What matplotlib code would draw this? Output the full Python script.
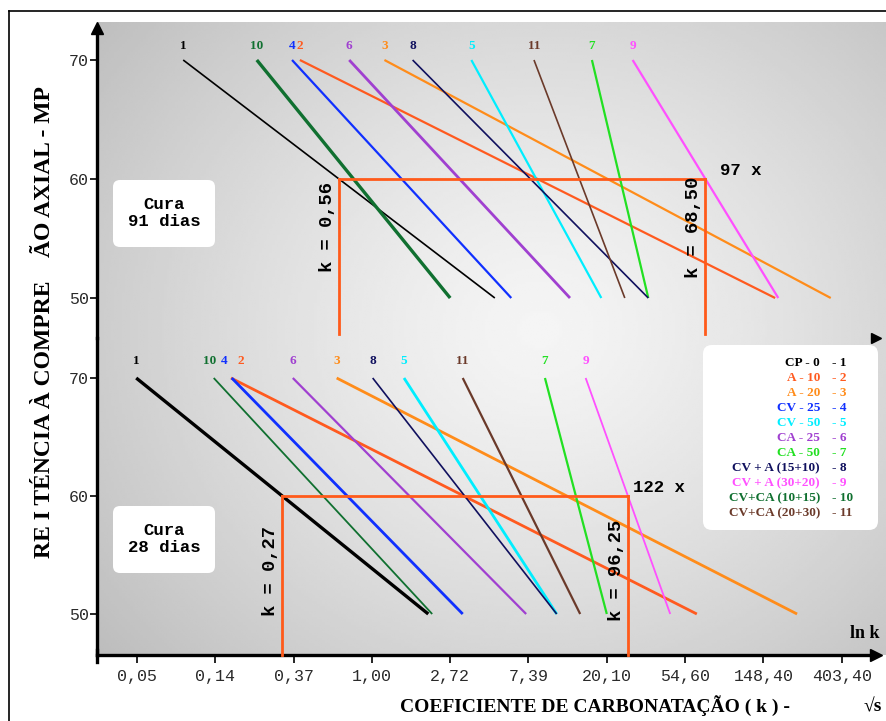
import numpy as np
import matplotlib
matplotlib.use('Agg')
import matplotlib.pyplot as plt
from matplotlib.patches import FancyBboxPatch

W, H = 887, 721

# ---------------- data ----------------
series_ids = ['1', '2', '3', '4', '5', '6', '7', '8', '9', '10', '11']
legend_names = ['CP - 0', 'A - 10', 'A - 20', 'CV - 25', 'CV - 50', 'CA - 25',
                'CA - 50', 'CV + A (15+10)', 'CV + A (30+20)', 'CV+CA (10+15)',
                'CV+CA (20+30)']
colors = ['#000000', '#FF5A1F', '#FF8C1A', '#1030FF', '#00EEFF', '#A040D0',
          '#22E022', '#10105E', '#FF50FF', '#107030', '#6B3A2A']

# ln(k) at which each line reaches 70 MPa and 50 MPa
cura91_lnk_at70 = [-2.41, -0.92, 0.16, -1.02, 1.27, -0.29, 2.81, 0.52, 3.33, -1.47, 2.07]
cura91_lnk_at50 = [1.57, 5.15, 5.86, 1.78, 2.93, 2.53, 3.53, 3.53, 5.19, 1.00, 3.23]
cura28_lnk_at70 = [-3.01, -1.80, -0.45, -1.79, 0.41, -1.01, 2.21, 0.01, 2.73, -2.02, 1.16]
cura28_lnk_at50 = [0.72, 4.15, 5.43, 1.16, 2.36, 1.97, 3.00, 2.36, 3.81, 0.77, 2.66]
strength_levels = [70, 50]

ytick_values = [50, 60, 70]
xtick_ln = [-3, -2, -1, 0, 1, 2, 3, 4, 5, 6]
xtick_labels = ['0,05', '0,14', '0,37', '1,00', '2,72', '7,39', '20,10',
                '54,60', '148,40', '403,40']

ref_strength = 60
ref_low_series, ref_high_series = '1', '9'
k_labels_91 = ['k = 0,56', 'k = 68,50']
ratio_91 = '97 x'
k_labels_28 = ['k = 0,27', 'k = 96,25']
ratio_28 = '122 x'

# ---------------- styles ----------------
lw91 = [1.2, 1.6, 1.6, 1.6, 1.6, 2.0, 1.6, 1.2, 1.6, 2.4, 1.2]
lw28 = [2.4, 2.0, 2.0, 2.0, 2.0, 1.6, 1.6, 1.2, 1.3, 1.3, 1.6]
label_dx28 = [0, 0.12, 0, -0.1, 0, 0, 0, 0, 0, -0.05, 0]
REF_COLOR = '#FF5A1A'

fig = plt.figure(figsize=(W / 100, H / 100), dpi=100)
fig.patch.set_facecolor('white')

def fx(px):
    return px / W

def fy(py):
    return 1 - py / H

# background (gradient, frame, boxes)
bg = fig.add_axes([0, 0, 1, 1], zorder=0)
bg.set_xlim(0, W)
bg.set_ylim(H, 0)
bg.axis('off')

gx0, gx1, gy0, gy1 = 97, 887, 22, 655
xx, yy = np.meshgrid(np.linspace(gx0, gx1, 300), np.linspace(gy0, gy1, 240))
r = np.sqrt(((xx - 540) / 470) ** 2 + ((yy - 330) / 420) ** 2)
grad = np.clip(0.96 - 0.17 * r ** 1.3, 0, 1)
bg.imshow(grad, extent=(gx0, gx1, gy1, gy0), cmap='gray', vmin=0, vmax=1,
          aspect='auto', origin='upper', interpolation='bilinear', zorder=0)
bg.plot([9, 9], [H, 11], color='k', lw=1.2, zorder=1)
bg.plot([9, W], [11, 11], color='k', lw=1.2, zorder=1)
bg.plot([97, 97], [650, 662], color='k', lw=2.4, zorder=1)

# axes geometry (pixels)
XL, XR = 97, 876
x_px0, x_step = 137, 78.3
xlim = ((XL - x_px0) / x_step - 3, (XR - x_px0) / x_step - 3)

ax_top = fig.add_axes([fx(XL), fy(338), fx(XR) - fx(XL), fy(28) - fy(338)], zorder=2)
ax_bot = fig.add_axes([fx(XL), fy(655), fx(XR) - fx(XL), fy(338) - fy(655)], zorder=2)
ax_top.set_ylim(50 - 40 / 11.9, 70 + 32 / 11.9)
ax_bot.set_ylim(50 - 41 / 11.8, 70 + 40 / 11.8)

tick_font = dict(family='Liberation Mono', size=12, color='#2a2a2a')
for ax in (ax_top, ax_bot):
    ax.set_xlim(*xlim)
    ax.set_facecolor('none')
    for s in ('top', 'right', 'bottom', 'left'):
        ax.spines[s].set_visible(False)
    ax.spines['left'].set_visible(True)
    ax.spines['left'].set_linewidth(2.4)
    ax.set_yticks(ytick_values)
    ax.set_yticklabels([str(v) for v in ytick_values], fontdict=tick_font)
    ax.tick_params(axis='y', direction='out', length=5, width=1.2, pad=1)

ax_top.set_xticks([])
ax_bot.spines['bottom'].set_visible(True)
ax_bot.spines['bottom'].set_linewidth(2.4)
ax_bot.set_xticks(xtick_ln)
ax_bot.set_xticklabels(xtick_labels, fontdict=tick_font)
ax_bot.tick_params(axis='x', direction='out', length=6, width=1.2, pad=4)

# arrows
ax_top.plot([0], [1], marker='^', ms=9, color='k', transform=ax_top.transAxes, clip_on=False)
ax_bot.plot([1], [0], marker='>', ms=9, color='k', transform=ax_bot.transAxes, clip_on=False)
ax_top.plot([1], [0], marker='>', ms=7, color='k', transform=ax_top.transAxes, clip_on=False)


def draw_panel(ax, at70, at50, lws, dxs, label_y, k_labels, ratio, vbottom,
               kfrac, ratio_dx):
    for i, sid in enumerate(series_ids):
        ax.plot([at70[i], at50[i]], strength_levels, color=colors[i], lw=lws[i],
                solid_capstyle='butt', zorder=3)
        ax.text(at70[i] + dxs[i], label_y, sid, color=colors[i], ha='center',
                va='bottom', fontsize=9.5, fontweight='bold', family='Liberation Serif')
    lo = series_ids.index(ref_low_series)
    hi = series_ids.index(ref_high_series)
    frac = (strength_levels[0] - ref_strength) / (strength_levels[0] - strength_levels[1])
    x_lo = at70[lo] + frac * (at50[lo] - at70[lo])
    x_hi = at70[hi] + frac * (at50[hi] - at70[hi])
    ax.plot([x_lo, x_hi], [ref_strength, ref_strength], color=REF_COLOR, lw=2.0, zorder=4)
    ax.plot([x_lo, x_lo], [ref_strength, vbottom], color=REF_COLOR, lw=2.0, zorder=4,
            clip_on=False)
    ax.plot([x_hi, x_hi], [ref_strength, vbottom], color=REF_COLOR, lw=2.0, zorder=4,
            clip_on=False)
    ymid = ref_strength - kfrac * (ref_strength - vbottom)
    ax.text(x_lo - 0.15, ymid, k_labels[0], rotation=90, ha='center', va='center',
            fontsize=13.5, fontweight='bold', family='Liberation Mono', zorder=5)
    ax.text(x_hi - 0.15, ymid, k_labels[1], rotation=90, ha='center', va='center',
            fontsize=13.5, fontweight='bold', family='Liberation Mono', zorder=5)
    ax.text(x_hi + ratio_dx, ref_strength + 0.1, ratio, ha='left', va='bottom',
            fontsize=12.5, fontweight='bold', family='Liberation Mono', zorder=5)


draw_panel(ax_top, cura91_lnk_at70, cura91_lnk_at50, lw91, [0] * 11, 70.7,
           k_labels_91, ratio_91, 50 - 36 / 11.9, 0.31, 0.18)
draw_panel(ax_bot, cura28_lnk_at70, cura28_lnk_at50, lw28, label_dx28, 70.9,
           k_labels_28, ratio_28, ax_bot.get_ylim()[0], 0.47, 0.07)

# "Cura" boxes
for (bx, by) in [(113, 180), (113, 506)]:
    bg.add_patch(FancyBboxPatch((bx, by), 102, 67,
                                boxstyle='round,pad=0,rounding_size=7',
                                fc='white', ec='none', zorder=2))
fig.text(fx(164), fy(213), 'Cura\n91 dias', ha='center', va='center', fontsize=12.5,
         fontweight='bold', family='Liberation Mono', linespacing=1.15, zorder=6)
fig.text(fx(164), fy(539), 'Cura\n28 dias', ha='center', va='center', fontsize=12.5,
         fontweight='bold', family='Liberation Mono', linespacing=1.15, zorder=6)

# legend box
bg.add_patch(FancyBboxPatch((703, 345), 175, 185, boxstyle='round,pad=0,rounding_size=9',
                            fc='white', ec='none', zorder=2))
for i, sid in enumerate(series_ids):
    ypx = 363 + 15 * i
    fig.text(fx(820), fy(ypx), legend_names[i], color=colors[i], ha='right', va='center',
             fontsize=9.5, fontweight='bold', family='Liberation Serif', zorder=6)
    fig.text(fx(832), fy(ypx), '- ' + sid, color=colors[i], ha='left', va='center',
             fontsize=9.5, fontweight='bold', family='Liberation Serif', zorder=6)

# axis labels
fig.text(fx(45), fy(322), 'RE I TÉNCIA À COMPRE    ÃO AXIAL - MP', rotation=90,
         ha='center', va='center', fontsize=17, fontweight='bold',
         family='Liberation Serif')
fig.text(fx(400), fy(706), 'COEFICIENTE DE CARBONATAÇÃO ( k ) -', ha='left',
         va='center', fontsize=14, fontweight='bold', family='Liberation Serif')
fig.text(fx(882), fy(707), '√s', ha='right', va='center', fontsize=14,
         fontweight='bold', family=['Liberation Serif', 'DejaVu Sans'])
fig.text(fx(880), fy(633), 'ln k', ha='right', va='center', fontsize=13,
         fontweight='bold', family='Liberation Serif')

fig.savefig('out.png', dpi=100)
